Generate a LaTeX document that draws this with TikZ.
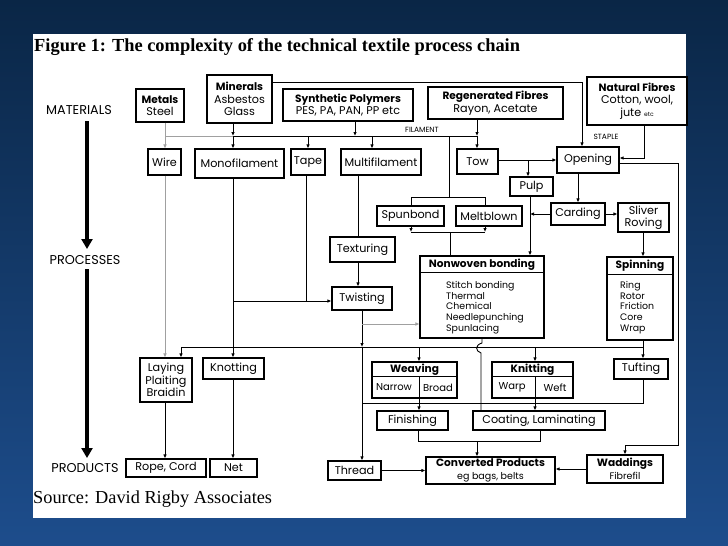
\documentclass[tikz,border=0pt]{standalone}
\usepackage{fontspec}
\setmainfont{Liberation Serif}
\newfontfamily\gfont{Poppins}
\usetikzlibrary{arrows.meta,calc}
\definecolor{bgtop}{HTML}{0A2646}
\definecolor{bgbot}{HTML}{1D4D8C}
\definecolor{lgray}{HTML}{A0A0A0}
\newcommand\hd[1]{{\bfseries\fontsize{10.6}{12.5}\selectfont #1}}
\begin{document}
\begin{tikzpicture}[x=1pt,y=-1pt,
  box/.style={draw=black,line width=1.1pt,fill=white,inner sep=0.5pt,align=center,
    font=\gfont\fontsize{11.2}{12.5}\selectfont},
  sz/.style 2 args={minimum width=#1pt,minimum height=#2pt},
  lbl/.style={inner sep=0pt,font=\gfont\fontsize{10}{11}\selectfont},
  lst/.style={inner sep=0pt,align=left,font=\gfont\fontsize{9.4}{10.8}\selectfont},
  tiny/.style={inner sep=0pt,font=\gfont\fontsize{7.5}{8}\selectfont},
  side/.style={inner sep=0pt,font=\gfont\fontsize{12.8}{14}\selectfont},
  con/.style={line width=0.9pt,black},
  arr/.style={con,-{Latex[length=4pt,width=3.5pt]}},
  gcon/.style={line width=0.6pt,lgray},
  garr/.style={gcon,-{Latex[length=4pt,width=3.5pt]}},
  big/.style={line width=3.6pt,-{Triangle[length=10pt,width=11pt]}},
]
\useasboundingbox (0,0) rectangle (728,546);
\shade[top color=bgtop,bottom color=bgbot] (0,0) rectangle (728,546);
\fill[white] (33,34) rectangle (686,518);

% titles
\node[anchor=west,inner sep=0pt,font=\bfseries\fontsize{18.4}{20}\selectfont] (title) at (34,47) {Figure 1: The complexity of the technical textile process chain};
\node[anchor=west,inner sep=0pt,font=\fontsize{18.3}{20}\selectfont] (source) at (33,499) {Source: David Rigby Associates};

% side labels and arrows
\node[side] (matl) at (79,110) {MATERIALS};
\node[side] (proc) at (85,260) {PROCESSES};
\node[side] (prod) at (85,468) {PRODUCTS};
\coordinate (a1) at (87,121); \coordinate (a2) at (87,249);
\coordinate (a3) at (87,269); \coordinate (a4) at (87,458);
\draw[big] (a1) -- (a2);
\draw[big] (a3) -- (a4);

% materials
\node[box,sz={48}{33}] (metals) at (160,105.5) {\hd{Metals}\\Steel};
\node[box,sz={65}{48}] (minerals) at (239.5,99) {\hd{Minerals}\\Asbestos\\Glass};
\node[box,sz={130}{32}] (synth) at (348,105) {\hd{Synthetic Polymers}\\PES, PA, PAN, PP etc};
\node[box,sz={135}{32}] (regen) at (495.5,103) {\hd{Regenerated Fibres}\\Rayon, Acetate};
\node[box,sz={100}{48}] (natural) at (637,101) {\hd{Natural Fibres}\\Cotton, wool,\\jute {\fontsize{6}{6}\selectfont etc}};

% row 2
\node[box,sz={33}{26}] (wire) at (164.5,162) {Wire};
\node[box,sz={89}{29}] (mono) at (239.5,163.5) {Monofilament};
\node[box,sz={34}{26}] (tape) at (308,162) {Tape};
\node[box,sz={80}{26}] (multi) at (381,162) {Multifilament};
\node[box,sz={41}{25}] (tow) at (477.5,161.5) {Tow};
\node[box,sz={62}{26}] (opening) at (588,160) {Opening};
\node[box,sz={43}{19}] (pulp) at (531.5,186.5) {Pulp};
\node[box,sz={67}{20}] (spunbond) at (410.5,216) {Spunbond};
\node[box,sz={66}{20}] (meltblown) at (489,216) {Meltblown};
\node[box,sz={54}{22}] (carding) at (578,214) {Carding};
\node[box,sz={51}{29}] (sliver) at (643.5,217.5) {Sliver\\Roving};
\node[box,sz={65}{25}] (texturing) at (362.5,249.5) {Texturing};
\node[box,sz={60}{23}] (twisting) at (362,298.5) {Twisting};

% nonwoven bonding
\node[box,sz={124}{82}] (nonwoven) at (482,297) {};
\draw[line width=1.1pt] ([yshift=-17pt]nonwoven.north west) -- ([yshift=-17pt]nonwoven.north east);
\node[lbl] (nwhead) at (482,265) {\hd{Nonwoven bonding}};
\node[lst,anchor=north west] (nwlist) at (446,281) {Stitch bonding\\Thermal\\Chemical\\Needlepunching\\Spunlacing};

% spinning
\node[box,sz={66}{83}] (spinning) at (640,298.5) {};
\draw[line width=1.1pt] ([yshift=-18pt]spinning.north west) -- ([yshift=-18pt]spinning.north east);
\node[lbl] (sphead) at (640,266) {\hd{Spinning}};
\node[lst,anchor=north west] (splist) at (620,281) {Ring\\Rotor\\Friction\\Core\\Wrap};

% weaving / knitting
\node[box,sz={85}{36}] (weaving) at (414.5,380) {};
\draw[line width=1.1pt] ([yshift=-15pt]weaving.north west) -- ([yshift=-15pt]weaving.north east);
\node[lbl] (wvhead) at (414.5,370) {\hd{Weaving}};
\node[lbl] (narrow) at (394,387.5) {Narrow};
\node[lbl] (broad) at (438,387.5) {Broad};
\node[box,sz={81}{36}] (knitting) at (532.5,380) {};
\draw[line width=1.1pt] ([yshift=-15pt]knitting.north west) -- ([yshift=-15pt]knitting.north east);
\node[lbl] (knhead) at (532.5,370) {\hd{Knitting}};
\node[lbl] (warp) at (512,387.5) {Warp};
\node[lbl] (weft) at (555,387.5) {Weft};

\node[box,sz={54}{20}] (tufting) at (641,369) {Tufting};
\node[box,sz={52}{44}] (laying) at (166,380) {Laying\\Plaiting\\Braidin};
\node[box,sz={61}{21}] (knotting) at (233.5,368.5) {Knotting};
\node[box,sz={71}{19}] (finishing) at (412.5,420.5) {Finishing};
\node[box,sz={132}{19}] (coating) at (539,420.5) {Coating, Laminating};

% products
\node[box,sz={80}{18}] (rope) at (166,468) {Rope, Cord};
\node[box,sz={47}{18}] (net) at (233.5,468) {Net};
\node[box,sz={53}{19}] (thread) at (354.5,470.5) {Thread};
\node[box,sz={129}{27}] (converted) at (490.5,470.5) {\hd{Converted Products}\\{\fontsize{9.5}{10}\selectfont eg bags, belts}};
\node[box,sz={76}{28}] (waddings) at (625,469) {\hd{Waddings}\\{\fontsize{9.5}{10}\selectfont Fibrefil}};

% small labels
\node[tiny] (fil) at (422,130) {FILAMENT};
\node[tiny] (staple) at (606,137) {STAPLE};

% junction coordinates
\coordinate (jMet) at (165,136);
\coordinate (jMin) at (233,136);
\coordinate (jTape) at (308,136);
\coordinate (jSyn) at (355,136);
\coordinate (jMul) at (372,136);
\coordinate (jBr) at (449,136);
\coordinate (jReg) at (477,136);
\coordinate (brT) at (449,197);
\coordinate (brTL) at (411,197);
\coordinate (brTR) at (485,197);
\coordinate (brBL) at (411,232);
\coordinate (brBR) at (485,232);
\coordinate (brBM) at (450,232);
\coordinate (topR) at (582,82);
\coordinate (natC) at (644,158);
\coordinate (jTow) at (528,160);
\coordinate (jPulp) at (530,214);
\coordinate (oR) at (678,163);
\coordinate (oRb) at (678,445);
\coordinate (oRc) at (625,445);
\coordinate (jTw) at (306,301);
\coordinate (jMono) at (233,301);
\coordinate (jTwB) at (362,347);
\coordinate (bigL) at (181,347);
\coordinate (bigR) at (643,347);
\coordinate (jWv) at (419,347);
\coordinate (jKn) at (535,347);
\coordinate (jG) at (362,324);
\coordinate (tufB) at (643,403);
\coordinate (tufL) at (362,403);
\coordinate (finB) at (418,441);
\coordinate (coaB) at (540,441);
\coordinate (jConv) at (477,441);
\coordinate (hop1) at (482,343);
\coordinate (hop2) at (481,353);
\coordinate (jTex) at (358,200);

% gray metal connectors
\draw[gcon] (metals.south -| jMet) -- (jMet) -- (jMin);
\draw[garr] (jMet) -- (wire.north -| jMet);
\draw[garr] (wire.south -| jMet) -- (laying.north -| jMet);

% filament line
\draw[arr] (minerals.south -| jMin) -- (jMin);
\draw[arr] (jMin) -- (mono.north -| jMin);
\draw[con] (jMin) -- (jReg);
\draw[arr] (synth.south -| jSyn) -- (jSyn);
\draw[arr] (jTape) -- (tape.north -| jTape);
\draw[arr] (jMul) -- (multi.north -| jMul);
\draw[arr] (regen.south -| jReg) -- (jReg);
\draw[arr] (jReg) -- (tow.north -| jReg);

% spunbond / meltblown bracket
\draw[con] (jBr) -- (brT);
\draw[con] (spunbond.north -| brTL) -- (brTL) -- (brTR) -- (meltblown.north -| brTR);
\draw[arr] (spunbond.south -| brBL) -- (brBL);
\draw[arr] (meltblown.south -| brBR) -- (brBR);
\draw[con] (brBL) -- (brBR);
\draw[con] (brBM) -- (nonwoven.north -| brBM);

% minerals to opening
\draw[arr] (minerals.east |- topR) -- (topR) -- (opening.north -| topR);
\draw[arr] (natural.south -| natC) -- (natC) -- (opening.east |- natC);
\draw[arr] (tow.east |- jTow) -- (opening.west |- jTow);
\draw[arr] (jTow) -- (pulp.north -| jTow);
\draw[arr] (pulp.south -| jPulp) -- (nonwoven.north -| jPulp);
\draw[arr] (carding.west |- jPulp) -- (jPulp);
\draw[arr] (opening.south -| carding.north) -- (carding.north);
\draw[arr] (carding.east) -- (sliver.west |- carding.east);
\draw[arr] (opening.east |- oR) -- (oR) -- (oRb) -- (oRc) -- (waddings.north -| oRc);
\draw[arr] (sliver.south -| bigR) -- (spinning.north -| bigR);

% monofilament, tape, multifilament
\draw[arr] (mono.south -| jMono) -- (knotting.north -| jMono);
\draw[con] (tape.south -| jTw) -- (jTw);
\draw[arr] (jMono) -- (twisting.west |- jMono);
\draw[con] (multi.south -| jTex) -- (texturing.north -| jTex);
\draw[arr] (texturing.south -| jTex) -- (twisting.north -| jTex);
\draw[arr] (twisting.south -| jTwB) -- (jTwB);
\draw[arr] (jTwB) -- (thread.north -| jTwB);
\draw[garr] (jG) -- (nonwoven.west |- jG);

% big distribution line
\draw[con] (bigL) -- (bigR);
\draw[arr] (bigL) -- (laying.north -| bigL);
\draw[arr] (jWv) -- (weaving.north -| jWv);
\draw[arr] (jKn) -- (knitting.north -| jKn);
\draw[arr] (spinning.south -| bigR) -- (tufting.north -| bigR);
\draw[con] (tufting.south -| tufB) -- (tufB) -- (tufL);
\draw[con] ([yshift=-15pt]weaving.north -| jWv) -- (weaving.south -| jWv);
\draw[arr] (weaving.south -| jWv) -- (finishing.north -| jWv);
\draw[con] ([yshift=-15pt]knitting.north -| jKn) -- (knitting.south -| jKn);
\draw[arr] (knitting.south -| jKn) -- (coating.north -| jKn);
\draw[con] (nonwoven.south -| hop1) -- (hop1) .. controls (475,345) and (475,351) .. (hop2) -- (coating.north -| hop2);

% finishing / coating to converted
\draw[con] (finishing.south -| finB) -- (finB) -- (coaB) -- (coating.south -| coaB);
\draw[arr] (jConv) -- (converted.north -| jConv);
\draw[arr] (thread.east) -- (converted.west |- thread.east);
\draw[arr] (waddings.west) -- (converted.east |- waddings.west);

% products
\draw[arr] (laying.south -| jMet) -- (rope.north -| jMet);
\draw[arr] (knotting.south -| jMono) -- (net.north -| jMono);
\end{tikzpicture}
\end{document}
